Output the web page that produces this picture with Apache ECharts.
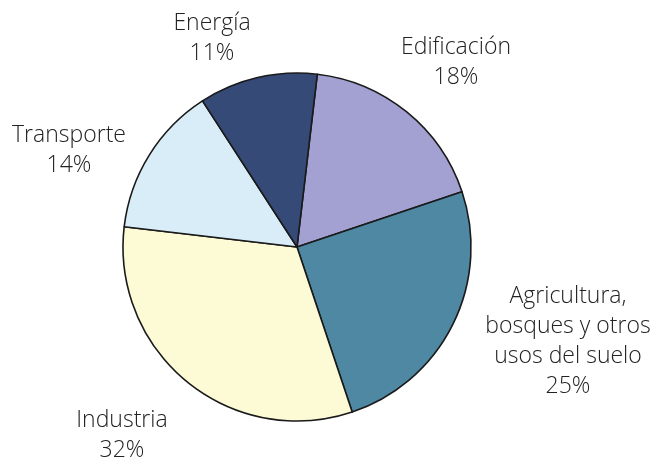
<!DOCTYPE html>
<html>
<head>
<meta charset="utf-8">
<script src="https://cdn.jsdelivr.net/npm/echarts@6/dist/echarts.min.js"></script>
<style>
  html, body { margin: 0; padding: 0; background: #ffffff; }
  #chart { width: 662px; height: 461px; }
</style>
</head>
<body>
<div id="chart"></div>
<script>
// Emisiones por sector (porcentaje del total)
const categories = ['Edificación', 'Agricultura,\nbosques y otros\nusos del suelo', 'Industria', 'Transporte', 'Energía'];
const shares = [18, 25, 32, 14, 11];
const sliceColors = ['#a3a0d2', '#4f88a3', '#fdfad6', '#d8edf7', '#364a78'];

// Label anchor points (centre of each text block)
const labelAnchors = [
  [456, 62],
  [568, 341],
  [122, 435],
  [69, 150],
  [212, 38]
];

const chart = echarts.init(document.getElementById('chart'), null, { renderer: 'canvas' });

chart.setOption({
  backgroundColor: '#ffffff',
  animation: false,
  series: [{
    type: 'pie',
    center: [297, 247],
    radius: 174,
    startAngle: 83.3,
    clockwise: true,
    avoidLabelOverlap: false,
    data: categories.map((name, i) => ({
      name: name,
      value: shares[i],
      itemStyle: { color: sliceColors[i] }
    })),
    itemStyle: {
      borderColor: '#1a1a1a',
      borderWidth: 1.6
    },
    label: {
      show: true,
      position: 'outside',
      formatter: p => p.name + '\n' + p.value + '%',
      fontFamily: 'Open Sans',
      fontSize: 23,
      fontWeight: 300,
      lineHeight: 30,
      color: '#222222',
      align: 'center'
    },
    labelLine: { show: false },
    labelLayout: params => {
      const a = labelAnchors[params.dataIndex];
      return {
        x: a[0],
        y: a[1],
        align: 'center',
        verticalAlign: 'middle'
      };
    },
    emphasis: { disabled: true }
  }]
});
</script>
</body>
</html>
